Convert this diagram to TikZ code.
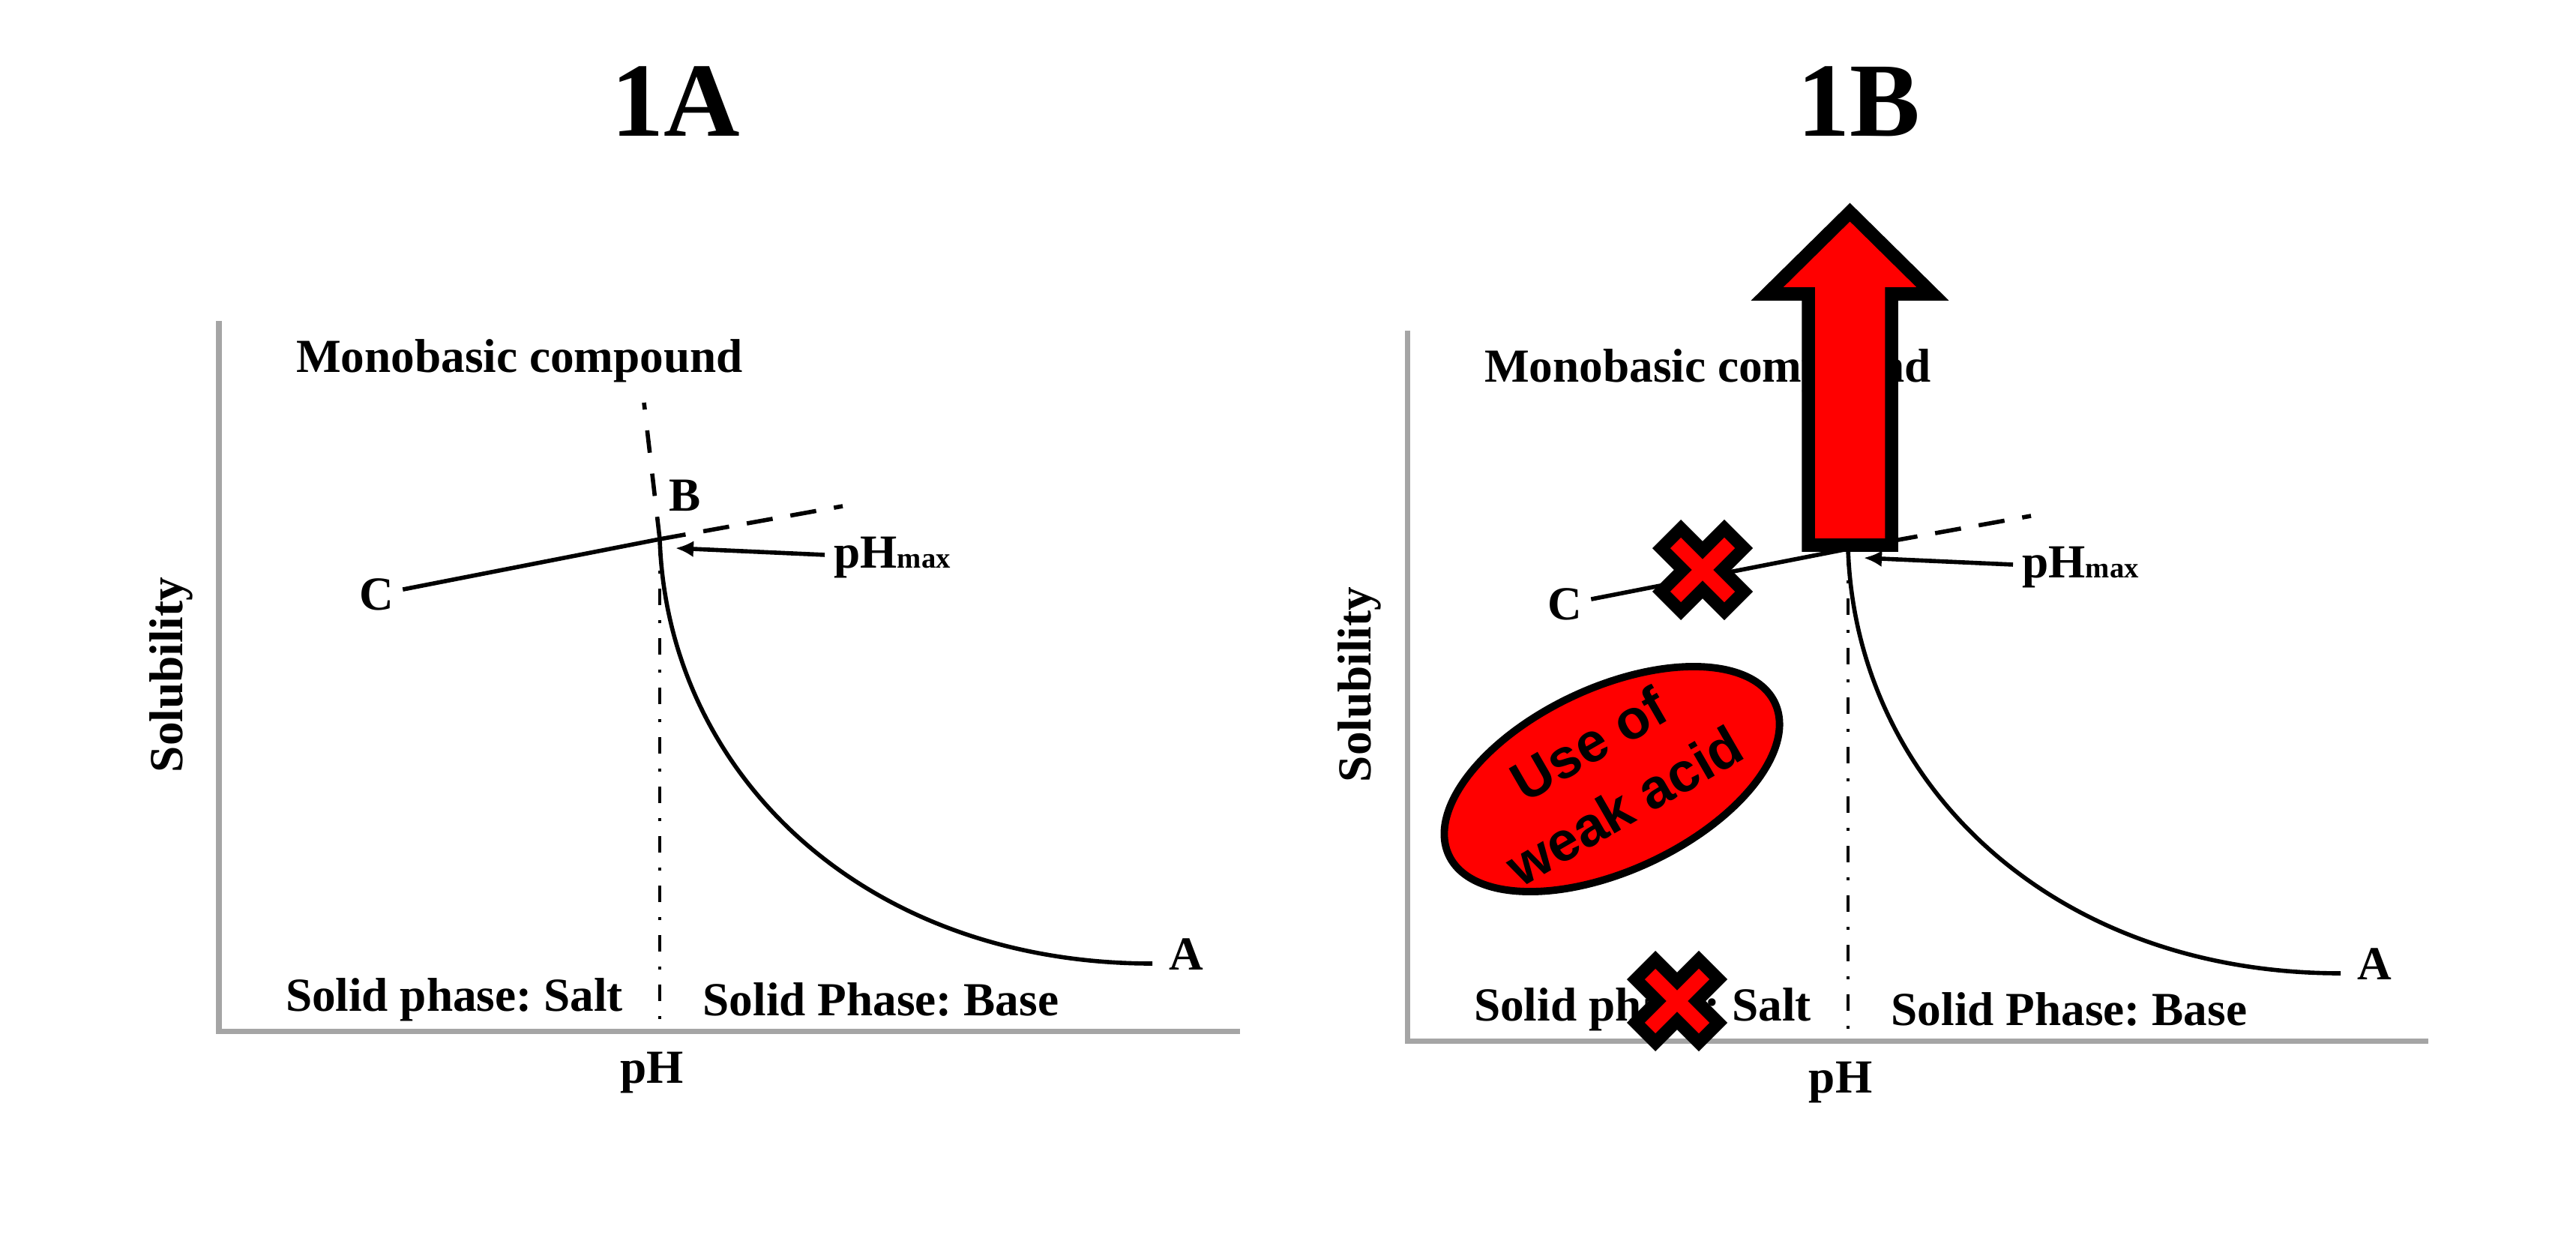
\documentclass[tikz,border=0pt]{standalone}
\usepackage{fontspec}
\setmainfont{Liberation Serif}
\newfontfamily\arialfont{Liberation Sans}
\usetikzlibrary{arrows.meta, shapes.geometric}
\definecolor{axisgray}{RGB}{165,165,165}
\definecolor{markred}{RGB}{255,0,0}
\frenchspacing

\tikzset{
    lbl/.style        = {font=\fontsize{18}{20}\selectfont\bfseries},
    paneltitle/.style = {font=\fontsize{40}{44}\selectfont\bfseries},
    axisline/.style   = {draw=axisgray, line width=2pt},
    solline/.style    = {line width=1.6pt},
    dashline/.style   = {line width=1.6pt, dash pattern=on 0.35cm off 0.24cm},
    dotline/.style    = {line width=1.2pt, dash pattern=on 0.22cm off 0.2cm on 0.04cm off 0.2cm},
}

\begin{document}
\begin{tikzpicture}
    \fill[white] (0,0) rectangle (34.36,16.5);

    \node[paneltitle] (titleA) at ( 9.01,15.15) {1A};
    \node[paneltitle] (titleB) at (24.79,15.15) {1B};

    \foreach \dx/\dy in {0/0, 15.85/-0.13}{
        \begin{scope}[shift={(\dx,\dy)}]
            \coordinate (O)      at ( 2.92, 2.75);
            \coordinate (Ytop)   at ( 2.92,12.22);
            \coordinate (Xend)   at (16.54, 2.75);
            \coordinate (B)      at ( 8.80, 9.31);
            \coordinate (Bup)    at ( 8.59,11.13);
            \coordinate (Bright) at (11.24, 9.75);
            \coordinate (Bhit)   at ( 9.01, 9.19);
            \coordinate (Aend)   at (15.37, 3.65);

            \node[lbl]              (mono)  at ( 6.93,11.69) {Monobasic compound};
            \node[lbl]              (Blbl)  at ( 9.14, 9.89) {B};
            \node[lbl]              (C)     at ( 5.02, 8.57) {C};
            \node[lbl]              (A)     at (15.82, 3.77) {A};
            \node[lbl, anchor=west] (pHmax) at (11.00, 9.06) {pH{\fontsize{11}{12}\selectfont max}};
            \node[lbl]              (salt)  at ( 6.06, 3.17) {Solid phase: Salt};
            \node[lbl]              (base)  at (11.75, 3.17) {Solid Phase: Base};
            \node[lbl]              (pH)    at ( 8.70, 2.19) {pH};
            \node[lbl, rotate=90]   (sol)   at ( 2.28, 7.50) {Solubility};

            \draw[axisline] (Ytop) -- (O) -- (Xend);
            \draw[solline] (C) -- (B);
            \draw[solline] (B) .. controls (8.90,6.20) and (11.50,3.65) .. (Aend);
            \draw[dashline] (B) -- (Bright);
            \draw[solline, dash pattern=on 0.3cm off 0.28cm] (B) -- (Bup);
            \draw[dotline] (B) -- (B |- O);
            \draw[solline, -{Latex[length=0.24cm, width=0.22cm]}] (pHmax) -- (Bhit);
        \end{scope}
    }

    \draw[line width=5pt, fill=markred] (24.12, 9.23) -- (24.12,12.58) -- (23.57,12.58) -- (24.675,13.67)
        -- (25.78,12.58) -- (25.23,12.58) -- (25.23, 9.23) -- cycle;

    \node[ellipse, draw, fill=markred, line width=2.8pt, minimum width=4.8cm, minimum height=2.44cm, rotate=25] (acid) at (21.50,6.11) {};
    \node[font=\arialfont\bfseries\fontsize{21}{27}\selectfont, align=center, rotate=30] (acidtxt) at (21.43,6.17) {Use of\\weak acid};

    \coordinate (X1) at (22.71, 8.90);
    \coordinate (X2) at (22.37, 3.15);
    \foreach \x in {(X1), (X2)}{
        \draw[line width=0.54cm] \x ++(-0.48,-0.48) -- ++(0.96,0.96) \x ++(-0.48,0.48) -- ++(0.96,-0.96);
        \draw[markred, line width=0.20cm] \x ++(-0.36,-0.36) -- ++(0.72,0.72) \x ++(-0.36,0.36) -- ++(0.72,-0.72);
    };
\end{tikzpicture}
\end{document}
